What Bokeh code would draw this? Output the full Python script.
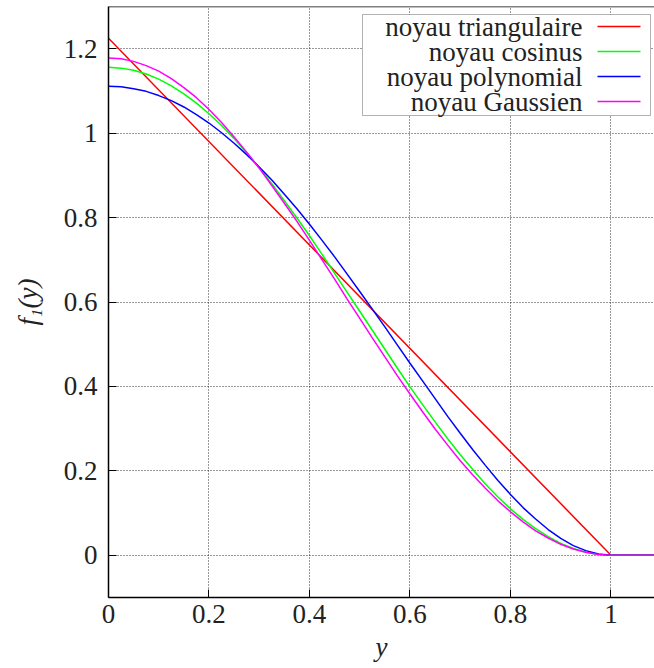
from bokeh.plotting import figure
from bokeh.models import (BoxAnnotation, Label, FixedTicker, Range1d,
                          NumeralTickFormatter, Span)
from bokeh.embed import file_html
from bokeh.resources import INLINE

# ---------------- data ----------------
xs = [0.000, 0.025, 0.050, 0.075, 0.100, 0.125, 0.150, 0.175, 0.200, 0.225,
      0.250, 0.275, 0.300, 0.325, 0.350, 0.375, 0.400, 0.425, 0.450, 0.475,
      0.500, 0.525, 0.550, 0.575, 0.600, 0.625, 0.650, 0.675, 0.700, 0.725,
      0.750, 0.775, 0.800, 0.825, 0.850, 0.875, 0.900, 0.925, 0.950, 0.975,
      1.000, 1.100]

tri_x = [0.0, 1.0, 1.1]
tri_y = [1.225, 0.0, 0.0]

cos_y = [1.156, 1.154, 1.149, 1.140, 1.128, 1.112, 1.093, 1.071, 1.046, 1.018,
         0.987, 0.953, 0.918, 0.880, 0.840, 0.799, 0.757, 0.713, 0.668, 0.623,
         0.578, 0.533, 0.488, 0.443, 0.399, 0.357, 0.316, 0.276, 0.238, 0.203,
         0.169, 0.138, 0.110, 0.085, 0.063, 0.044, 0.028, 0.016, 0.007, 0.002,
         0.000, 0.000]

poly_y = [1.111, 1.110, 1.105, 1.099, 1.089, 1.077, 1.062, 1.044, 1.024, 1.001,
          0.976, 0.949, 0.920, 0.889, 0.855, 0.821, 0.784, 0.746, 0.707, 0.666,
          0.625, 0.583, 0.541, 0.498, 0.455, 0.413, 0.371, 0.329, 0.289, 0.250,
          0.213, 0.177, 0.144, 0.113, 0.086, 0.061, 0.040, 0.023, 0.011, 0.003,
          0.000, 0.000]

gauss_y = [1.178, 1.176, 1.170, 1.160, 1.147, 1.129, 1.108, 1.084, 1.056, 1.025,
           0.991, 0.955, 0.917, 0.876, 0.834, 0.791, 0.746, 0.700, 0.654, 0.607,
           0.561, 0.515, 0.470, 0.425, 0.382, 0.340, 0.299, 0.261, 0.224, 0.190,
           0.159, 0.129, 0.103, 0.079, 0.058, 0.041, 0.026, 0.015, 0.007, 0.002,
           0.000, 0.000]

legend_names = ["noyau triangulaire", "noyau cosinus", "noyau polynomial",
                "noyau Gaussien"]
colors = ["#ff0000", "#00ff00", "#0000ff", "#ff00ff"]

x_ticks = [0, 0.2, 0.4, 0.6, 0.8, 1.0]
y_ticks = [0, 0.2, 0.4, 0.6, 0.8, 1.0, 1.2]

FONT = "'Liberation Serif', 'Times New Roman', serif"
FS = "27px"

# ---------------- figure ----------------
p = figure(frame_width=546, frame_height=591,
           x_range=Range1d(0, 1.0866), y_range=Range1d(-0.1, 1.3),
           output_backend="svg", toolbar_location=None,
           min_border_left=108, min_border_right=0,
           min_border_top=6, min_border_bottom=0,
           x_axis_label="y", y_axis_label="f₁(y)")
p.outline_line_color = None
p.background_fill_color = "white"

# curves
series = [(tri_x, tri_y), (xs, cos_y), (xs, poly_y), (xs, gauss_y)]
for (sx, sy), c in zip(series, colors):
    p.line(sx, sy, line_color=c, line_width=1.5)

# axes
for ax in (p.xaxis[0], p.yaxis[0]):
    ax.major_tick_in = 8
    ax.major_tick_out = 0
    ax.minor_tick_line_color = None
    ax.axis_line_width = 1.5
    ax.axis_line_color = "black"
    ax.major_tick_line_color = "black"
    ax.major_label_text_font = FONT
    ax.major_label_text_font_size = FS
    ax.major_label_text_color = "#222222"
    ax.axis_label_text_font = FONT
    ax.axis_label_text_font_size = FS
    ax.axis_label_text_font_style = "italic"
    ax.axis_label_text_color = "#222222"
    ax.formatter = NumeralTickFormatter(format="0.[0]")

p.xaxis[0].ticker = FixedTicker(ticks=x_ticks)
p.yaxis[0].ticker = FixedTicker(ticks=y_ticks)
p.xaxis[0].major_label_standoff = 7
p.xaxis[0].axis_label_standoff = 6
p.yaxis[0].major_label_standoff = 11
p.yaxis[0].axis_label_standoff = 18

# top border of the frame
p.add_layout(Span(location=1.3, dimension="width", line_color="black",
                  line_width=1.5))

# grid
p.grid.grid_line_color = "black"
p.grid.grid_line_dash = "1 2"
p.grid.grid_line_alpha = 0.8
p.grid.grid_line_width = 1

# legend (gnuplot style: text right-aligned, sample on the right)
p.add_layout(BoxAnnotation(left=254, right=542, bottom=482, top=583,
                           left_units="screen", right_units="screen",
                           bottom_units="screen", top_units="screen",
                           fill_color="white", fill_alpha=1.0,
                           line_color="black", line_width=1))
row_y0 = 571
row_dy = 25
for i, (name, c) in enumerate(zip(legend_names, colors)):
    yy = row_y0 - i * row_dy
    p.add_layout(BoxAnnotation(left=489, right=532, bottom=yy - 0.75, top=yy + 0.75,
                               left_units="screen", right_units="screen",
                               bottom_units="screen", top_units="screen",
                               fill_color=c, fill_alpha=1.0, line_color=None))
    p.add_layout(Label(x=474, y=yy, x_units="screen", y_units="screen",
                       text=name, text_align="right", text_baseline="middle",
                       text_font=FONT, text_font_size=FS, text_color="#222222"))

open("out.html", "w").write(file_html(p, INLINE))
